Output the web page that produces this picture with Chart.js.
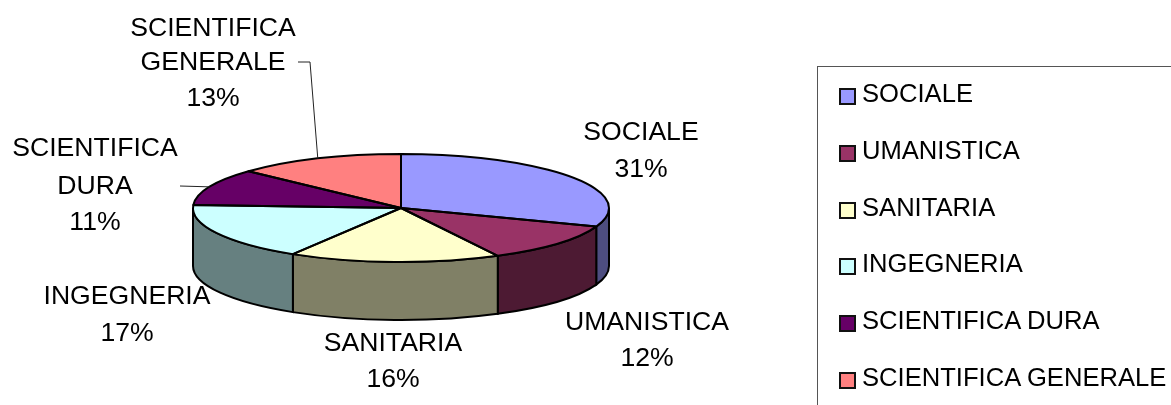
<!DOCTYPE html>
<html>
<head>
<meta charset="utf-8">
<script src="https://cdn.jsdelivr.net/npm/chart.js@4/dist/chart.umd.min.js"></script>
<style>
html, body { margin: 0; padding: 0; background: #fff; }
#wrap { position: relative; width: 1171px; height: 405px; overflow: hidden; font-family: "Liberation Sans", Arial, sans-serif; }
#grafico { position: absolute; left: 0; top: 0; }
#legenda { position: absolute; left: 817px; top: 66px; width: 500px; height: 500px; border: 1px solid #555; box-sizing: border-box; }
.voce { position: absolute; left: 21px; height: 30px; line-height: 30px; font-size: 25.6px; color: #000; white-space: nowrap; }
.voce i { position: absolute; left: 0; top: 10px; width: 13px; height: 13px; border: 2px solid #111; }
.voce span { position: absolute; left: 23px; top: 0; }
</style>
</head>
<body>
<div id="wrap">
  <canvas id="grafico" width="1171" height="405"></canvas>
  <div id="legenda"></div>
</div>
<script>
// =====================
// DATI
// =====================
const categorie = ["SOCIALE", "UMANISTICA", "SANITARIA", "INGEGNERIA", "SCIENTIFICA DURA", "SCIENTIFICA GENERALE"];
const valori = [30.6, 11.7, 16.4, 17.2, 11, 13.1];
const colori = ["#9999FF", "#993366", "#FFFFCC", "#CCFFFF", "#660066", "#FF8080"];
const coloriLato = ["#4D4D80", "#4D1A33", "#808066", "#668080", "#330033", "#804040"];

// etichette: righe di testo e dove stanno (centro x, y di ogni riga)
const righeEtichette = [["SOCIALE"], ["UMANISTICA"], ["SANITARIA"], ["INGEGNERIA"], ["SCIENTIFICA", "DURA"], ["SCIENTIFICA", "GENERALE"]];
const posEtichette = [
    { x: 641, y: [133, 170] },
    { x: 647, y: [323, 359] },
    { x: 393, y: [344, 380] },
    { x: 127, y: [297, 334] },
    { x: 95, y: [149, 187, 223] },
    { x: 213, y: [29, 63, 99] }
];
// linee guida: solo per le due fette in alto a sinistra
const guide = { 4: [[180, 186]], 5: [[298, 62], [310, 62]] };

const RX = 208, RY = 54, PROF = 58;
const K = RY / RX;
const totale = valori.reduce((a, b) => a + b, 0);

// =====================
// PLUGIN 3D
// =====================
const torta3d = {
    id: "torta3d",
    beforeDatasetDraw(chart) {
        const ctx = chart.ctx;
        const arcs = chart.getDatasetMeta(0).data;
        const cx = arcs[0].x, cy = arcs[0].y;

        // pareti laterali, solo la parte davanti (angoli tra 0 e PI)
        ctx.save();
        ctx.lineWidth = 2;
        ctx.strokeStyle = "#000";
        arcs.forEach((a, i) => {
            const da = Math.max(a.startAngle, 0);
            const fine = Math.min(a.endAngle, Math.PI);
            if (fine <= da) return;
            ctx.beginPath();
            ctx.ellipse(cx, cy, RX, RY, 0, da, fine);
            ctx.ellipse(cx, cy + PROF, RX, RY, 0, fine, da, true);
            ctx.closePath();
            ctx.fillStyle = coloriLato[i];
            ctx.fill();
            ctx.stroke();
        });
        ctx.restore();

        // schiaccio la torta
        ctx.save();
        ctx.translate(cx, cy);
        ctx.scale(1, K);
        ctx.translate(-cx, -cy);
    },
    afterDatasetDraw(chart) {
        const ctx = chart.ctx;
        ctx.restore();
        const arcs = chart.getDatasetMeta(0).data;
        const cx = arcs[0].x, cy = arcs[0].y;

        // bordi delle fette con tratto uniforme
        ctx.save();
        ctx.lineWidth = 2;
        ctx.strokeStyle = "#000";
        ctx.lineJoin = "round";
        arcs.forEach(a => {
            ctx.beginPath();
            ctx.moveTo(cx, cy);
            ctx.ellipse(cx, cy, RX, RY, 0, a.startAngle, a.endAngle);
            ctx.closePath();
            ctx.stroke();
        });
        ctx.restore();
    },
    afterDraw(chart) {
        const ctx = chart.ctx;
        const arcs = chart.getDatasetMeta(0).data;
        const cx = arcs[0].x, cy = arcs[0].y;

        // linee guida
        ctx.save();
        ctx.lineWidth = 1;
        ctx.strokeStyle = "#222";
        Object.keys(guide).forEach(i => {
            const a = arcs[i];
            const m = (a.startAngle + a.endAngle) / 2;
            ctx.beginPath();
            guide[i].forEach((p, j) => j ? ctx.lineTo(p[0], p[1]) : ctx.moveTo(p[0], p[1]));
            ctx.lineTo(cx + RX * Math.cos(m), cy + RY * Math.sin(m));
            ctx.stroke();
        });

        // etichette
        ctx.fillStyle = "#000";
        ctx.font = "26.6px 'Liberation Sans', Arial, sans-serif";
        ctx.textAlign = "center";
        ctx.textBaseline = "middle";
        categorie.forEach((c, i) => {
            const righe = righeEtichette[i].concat(Math.round(valori[i] / totale * 100) + "%");
            righe.forEach((r, j) => ctx.fillText(r, posEtichette[i].x, posEtichette[i].y[j]));
        });
        ctx.restore();
    }
};

// =====================
// GRAFICO
// =====================
Chart.defaults.animation = false;
const grafico = new Chart(document.getElementById("grafico"), {
    type: "pie",
    data: {
        labels: categorie,
        datasets: [{
            data: valori,
            backgroundColor: colori,
            borderWidth: 0,
            clip: false
        }]
    },
    options: {
        responsive: false,
        radius: RX,
        layout: { padding: { left: 0, right: 369, top: 11, bottom: 0 } },
        plugins: { legend: { display: false }, tooltip: { enabled: false } }
    },
    plugins: [torta3d]
});

// =====================
// LEGENDA
// =====================
const legenda = document.getElementById("legenda");
categorie.forEach((c, i) => {
    const voce = document.createElement("div");
    voce.className = "voce";
    voce.style.top = (11 + i * 56.8) + "px";
    voce.innerHTML = `<i style="background:${colori[i]}"></i><span>${c}</span>`;
    legenda.appendChild(voce);
});
</script>
</body>
</html>
